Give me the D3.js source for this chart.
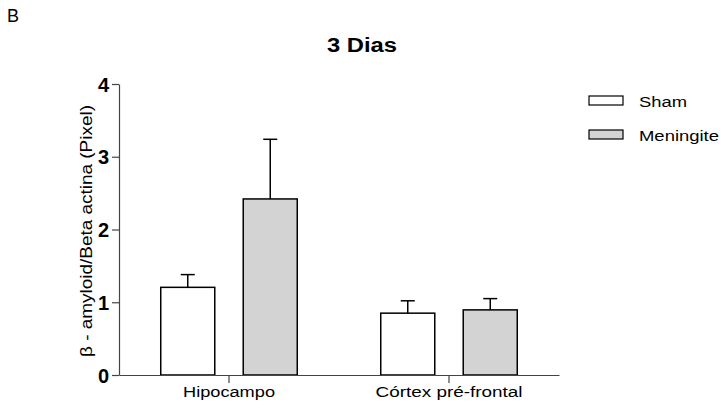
<!DOCTYPE html>
<html>
<head>
<meta charset="utf-8">
<script src="https://cdn.jsdelivr.net/npm/d3@7"></script>
<style>
  html, body { margin: 0; padding: 0; background: #fff; }
  svg { display: block; font-family: Arial, "Liberation Sans", sans-serif; }
</style>
</head>
<body>
<svg id="chart" width="726" height="411"></svg>
<script>
// Regions measured and the two experimental groups
const categories = ["Hipocampo", "Córtex pré-frontal"];
const seriesNames = ["Sham", "Meningite"];
const shamMeans = [1.205, 0.85];
const shamSem = [0.175, 0.17];
const meningiteMeans = [2.42, 0.895];
const meningiteSem = [0.82, 0.155];
const yTicks = [0, 1, 2, 3, 4];
const seriesFill = ["#ffffff", "#d3d3d3"];

const svg = d3.select("#chart");

const plot = { left: 119, right: 559, top: 84, bottom: 375 };

const x0 = d3.scaleBand().domain(categories).range([plot.left, plot.right]).padding(0);
const x1 = d3.scaleBand().domain(seriesNames).range([0, x0.bandwidth()])
  .paddingInner(0.345).paddingOuter(0.506);
const y = d3.scaleLinear().domain([0, 4]).range([plot.bottom, plot.top]);

const rows = categories.map((c, i) => ({
  category: c,
  bars: [
    { series: "Sham", mean: shamMeans[i], sem: shamSem[i] },
    { series: "Meningite", mean: meningiteMeans[i], sem: meningiteSem[i] }
  ]
}));

// Panel letter and title
svg.append("text").attr("x", 7).attr("y", 22)
  .attr("font-size", 18).attr("fill", "#000").text("B");
svg.append("text").attr("x", 362).attr("y", 52)
  .attr("text-anchor", "middle").attr("font-size", 20).attr("font-weight", "bold")
  .attr("textLength", 70).attr("lengthAdjust", "spacingAndGlyphs")
  .text("3 Dias");

// Bars with error bars
const groups = svg.append("g").selectAll("g").data(rows).join("g")
  .attr("transform", d => `translate(${x0(d.category)},0)`);

groups.selectAll("rect").data(d => d.bars).join("rect")
  .attr("x", d => x1(d.series))
  .attr("y", d => y(d.mean))
  .attr("width", x1.bandwidth())
  .attr("height", d => y(0) - y(d.mean))
  .attr("fill", (d, i) => seriesFill[i])
  .attr("stroke", "#000").attr("stroke-width", 1.5);

const capHalf = 7;
const err = groups.selectAll("g.err").data(d => d.bars).join("g").attr("class", "err")
  .attr("stroke", "#000").attr("stroke-width", 1.5);
err.append("line")
  .attr("x1", d => x1(d.series) + x1.bandwidth() / 2)
  .attr("x2", d => x1(d.series) + x1.bandwidth() / 2)
  .attr("y1", d => y(d.mean))
  .attr("y2", d => y(d.mean + d.sem));
err.append("line")
  .attr("x1", d => x1(d.series) + x1.bandwidth() / 2 - capHalf)
  .attr("x2", d => x1(d.series) + x1.bandwidth() / 2 + capHalf)
  .attr("y1", d => y(d.mean + d.sem))
  .attr("y2", d => y(d.mean + d.sem));

// Y axis
const yAxis = svg.append("g").attr("transform", `translate(${plot.left},0)`)
  .call(d3.axisLeft(y).tickValues(yTicks).tickFormat(d3.format("d")).tickSize(7).tickSizeOuter(0));
yAxis.select(".domain").attr("stroke", "#444").attr("stroke-width", 1.2);
yAxis.selectAll(".tick line").attr("stroke", "#444").attr("stroke-width", 1.2);
yAxis.selectAll(".tick text")
  .attr("x", -10).attr("dy", "0.36em")
  .attr("font-size", 20).attr("font-weight", "bold")
  .attr("font-family", "Arial, 'Liberation Sans', sans-serif").attr("fill", "#000");

// X axis
const xAxis = svg.append("g").attr("transform", `translate(0,${plot.bottom})`)
  .call(d3.axisBottom(x0).tickSize(8).tickSizeOuter(0));
xAxis.select(".domain").attr("stroke", "#444").attr("stroke-width", 1.2);
xAxis.selectAll(".tick line").attr("stroke", "#444").attr("stroke-width", 1.2);
const xLabelLen = { "Hipocampo": 92, "Córtex pré-frontal": 147 };
xAxis.selectAll(".tick text")
  .attr("y", 11).attr("dy", "0.71em")
  .attr("font-size", 15.5)
  .attr("font-family", "Arial, 'Liberation Sans', sans-serif").attr("fill", "#000")
  .attr("textLength", d => xLabelLen[d]).attr("lengthAdjust", "spacingAndGlyphs");

// Y axis title
svg.append("text")
  .attr("transform", "translate(92,231) rotate(-90)")
  .attr("text-anchor", "middle").attr("font-size", 16)
  .attr("textLength", 252).attr("lengthAdjust", "spacingAndGlyphs")
  .text("β - amyloid/Beta actina (Pixel)");

// Legend
const legendLen = { "Sham": 48, "Meningite": 80 };
const legend = svg.append("g").selectAll("g").data(seriesNames).join("g")
  .attr("transform", (d, i) => `translate(589,${96 + i * 34})`);
legend.append("rect").attr("width", 34).attr("height", 9)
  .attr("fill", (d, i) => seriesFill[i]).attr("stroke", "#000").attr("stroke-width", 1.2);
legend.append("text").attr("x", 50).attr("y", 10.5)
  .attr("font-size", 15.5)
  .attr("textLength", d => legendLen[d]).attr("lengthAdjust", "spacingAndGlyphs")
  .text(d => d);
</script>
</body>
</html>
